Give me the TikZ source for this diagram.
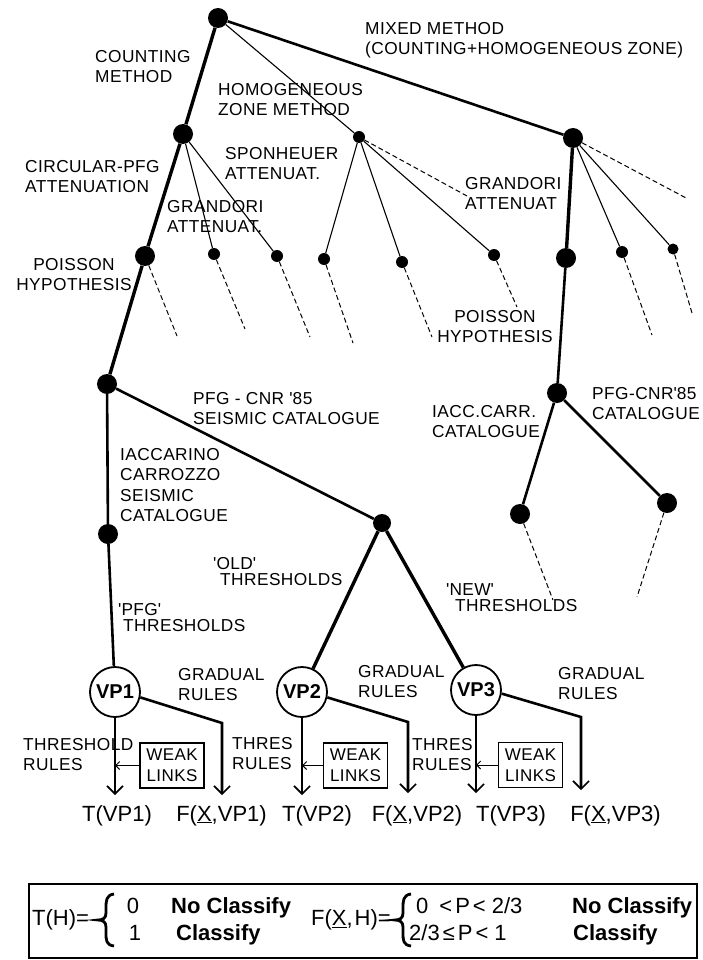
\documentclass[tikz,border=0pt]{standalone}
\usepackage{fontspec}
\setmainfont{Liberation Sans}
\newfontfamily\lblfont[LetterSpace=2.5]{Liberation Sans}
\usetikzlibrary{arrows.meta}
\begin{document}
\begin{tikzpicture}[x=1pt,y=-1pt,
  lbl/.style={font=\lblfont\fontsize{17.3}{20.5}\selectfont, align=left, inner sep=0pt, anchor=north west},
  lblq/.style={font=\lblfont\fontsize{17.3}{16}\selectfont, align=left, inner sep=0pt, anchor=north west},
  lblc/.style={font=\lblfont\fontsize{17.3}{20.5}\selectfont, align=center, inner sep=0pt, anchor=north},
  bdot/.style={circle, fill=black, inner sep=0pt, minimum size=20pt},
  sdot/.style={circle, fill=black, inner sep=0pt, minimum size=12pt},
  vp/.style={circle, draw, line width=1.8pt, minimum size=50pt, inner sep=0pt, font=\bfseries\fontsize{20}{22}\selectfont},
  wbox/.style={draw, line width=1.3pt, minimum width=64pt, minimum height=45pt, inner sep=0pt, align=center, font=\lblfont\fontsize{17}{21}\selectfont},
  outl/.style={font=\fontsize{22}{24}\selectfont, inner sep=0pt, anchor=base},
  fml/.style={font=\fontsize{22}{24}\selectfont, inner sep=0pt},
  fmlb/.style={font=\bfseries\fontsize{22}{24}\selectfont, inner sep=0pt},
  heavy/.style={line width=3.4pt},
  med/.style={line width=2.6pt},
  thin/.style={line width=1.1pt},
  dsh/.style={line width=1pt, dash pattern=on 5pt off 3pt},
  arr/.style={-{Straight Barb[length=8pt,width=16pt,line width=1.6pt]}},
  sarr/.style={line width=1pt, -{Straight Barb[length=4pt,width=8pt]}},
  brc/.style={line width=2.8pt}
]
\useasboundingbox (0,0) rectangle (703,960);
\fill[white] (0,0) rectangle (703,960);

% ---------- tree nodes ----------
\node[bdot] (R) at (218,18) {};
\node[bdot] (C) at (183,134) {};
\node[sdot] (H) at (359,137) {};
\node[bdot] (M) at (573,138) {};
\node[bdot] (P) at (145,256) {};
\node[sdot] (c1) at (214,254) {};
\node[sdot] (c2) at (277,256) {};
\node[sdot] (h1) at (324,259) {};
\node[sdot] (h2) at (402,262) {};
\node[sdot] (h3) at (494,255) {};
\node[bdot] (M2) at (566,258) {};
\node[sdot] (m1) at (622,252) {};
\node[sdot, minimum size=11pt] (m2) at (673,249) {};
\node[bdot] (N1) at (107,384) {};
\node[bdot] (N2) at (108,534) {};
\node[bdot, minimum size=18pt] (N3) at (382,523) {};
\node[bdot] (M3) at (557,393) {};
\node[bdot] (M4) at (520,514) {};
\node[bdot] (M5) at (667,503) {};
\node[vp] (VP1) at (115,692) {VP1};
\node[vp] (VP2) at (302,692) {VP2};
\node[vp] (VP3) at (476,690) {VP3};

% dashed ends
\coordinate (dP) at (177,336);
\coordinate (dc1) at (245,329);
\coordinate (dc2) at (310,337);
\coordinate (dh1) at (353,343);
\coordinate (dh2) at (432,337);
\coordinate (dh3) at (517,307);
\coordinate (dH) at (467,196);
\coordinate (dM) at (688,199);
\coordinate (dm1) at (652,335);
\coordinate (dm2) at (692,313);
\coordinate (dM4) at (553,600);
\coordinate (dM5) at (637,597);

% ---------- tree edges ----------
\draw[heavy] (R) -- (C);
\draw[thin] (R) -- (H);
\draw[med] (R) -- (M);
\draw[heavy] (C) -- (P);
\draw[thin] (C) -- (c1);
\draw[thin] (C) -- (c2);
\draw[thin] (H) -- (h1);
\draw[thin] (H) -- (h2);
\draw[thin] (H) -- (h3);
\draw[dsh] (H) -- (dH);
\draw[heavy] (M) -- (M2);
\draw[thin] (M) -- (m1);
\draw[thin] (M) -- (m2);
\draw[dsh] (M) -- (dM);
\draw[dsh] (P) -- (dP);
\draw[dsh] (c1) -- (dc1);
\draw[dsh] (c2) -- (dc2);
\draw[dsh] (h1) -- (dh1);
\draw[dsh] (h2) -- (dh2);
\draw[dsh] (h3) -- (dh3);
\draw[dsh] (m1) -- (dm1);
\draw[dsh] (m2) -- (dm2);
\draw[heavy] (P) -- (N1);
\draw[med] (N1) -- (N2);
\draw[med] (N1) -- (N3);
\draw[med] (N2) -- (VP1);
\draw[heavy] (N3) -- (VP2);
\draw[heavy] (N3) -- (VP3);
\draw[med] (M2) -- (M3);
\draw[med] (M3) -- (M4);
\draw[med] (M3) -- (M5);
\draw[dsh] (M4) -- (dM4);
\draw[dsh] (M5) -- (dM5);

% ---------- VP outputs ----------
\coordinate (a1) at (115,795);
\coordinate (g1) at (222,723);
\coordinate (b1) at (222,795);
\coordinate (a2) at (302,795);
\coordinate (g2) at (408,722);
\coordinate (b2) at (408,793);
\coordinate (a3) at (476,793);
\coordinate (g3) at (581,717);
\coordinate (b3) at (581,790);
\draw[med, arr] (VP1) -- (a1);
\draw[med, arr] (VP1.-12) -- (g1) -- (b1);
\draw[med, arr] (VP2) -- (a2);
\draw[med, arr] (VP2.-12) -- (g2) -- (b2);
\draw[med, arr] (VP3) -- (a3);
\draw[med, arr] (VP3.-8) -- (g3) -- (b3);

\node[wbox] (W1) at (172,765.5) {WEAK\\LINKS};
\node[wbox] (W2) at (355.5,765.5) {WEAK\\LINKS};
\node[wbox] (W3) at (530.5,765) {WEAK\\LINKS};
\coordinate (w1) at (115,765.5);
\coordinate (w2) at (302,765.5);
\coordinate (w3) at (476,765);
\draw[sarr] (W1) -- (w1);
\draw[sarr] (W2) -- (w2);
\draw[sarr] (W3) -- (w3);

% ---------- labels ----------
\node[lbl] (lcount) at (95,50) {COUNTING\\METHOD};
\node[lbl] (lhomo) at (218,83) {HOMOGENEOUS\\ZONE METHOD};
\node[lbl] (lmix) at (365,22) {MIXED METHOD\\(COUNTING+HOMOGENEOUS ZONE)};
\node[lbl] (lcirc) at (25,160) {CIRCULAR-PFG\\ATTENUATION};
\node[lbl] (lspon) at (225,147) {SPONHEUER\\ATTENUAT.};
\node[lbl] (lgr1) at (167,200) {GRANDORI\\ATTENUAT.};
\node[lblc] (lpo1) at (74,258) {POISSON\\HYPOTHESIS};
\node[lbl] (lgr2) at (465,177) {GRANDORI\\ATTENUAT};
\node[lblc] (lpo2) at (495,310) {POISSON\\HYPOTHESIS};
\node[lbl] (lpfg) at (193,392) {PFG - CNR \textquotesingle 85\\SEISMIC CATALOGUE};
\node[lbl] (liac) at (120,448) {IACCARINO\\CARROZZO\\SEISMIC\\CATALOGUE};
\node[lblq] (lold) at (213,557) {\textquotesingle OLD\textquotesingle\\\hspace*{7pt}THRESHOLDS};
\node[lblq] (lpfgt) at (118,603) {\textquotesingle PFG\textquotesingle\\\hspace*{5pt}THRESHOLDS};
\node[lbl] (liacc) at (432,405) {IACC.CARR.\\CATALOGUE};
\node[lbl] (lpfg2) at (592,387) {PFG-CNR\textquotesingle 85\\CATALOGUE};
\node[lblq] (lnew) at (446,583) {\textquotesingle NEW\textquotesingle\\\hspace*{9pt}THRESHOLDS};
\node[lbl] (lgrad1) at (178,668) {GRADUAL\\RULES};
\node[lbl] (lgrad2) at (358,665) {GRADUAL\\RULES};
\node[lbl] (lgrad3) at (558,667) {GRADUAL\\RULES};
\node[lbl] (lthr1) at (23,738) {THRESHOLD\\RULES};
\node[lbl] (lthr2) at (232,737) {THRES\\RULES};
\node[lbl] (lthr3) at (412,738) {THRES\\RULES};

% ---------- outputs ----------
\node[outl] (o1) at (117,821) {T(VP1)};
\node[outl] (o2) at (221.5,821) {F(\underline{X},VP1)};
\node[outl] (o3) at (317,821) {T(VP2)};
\node[outl] (o4) at (417,821) {F(\underline{X},VP2)};
\node[outl] (o5) at (511,821) {T(VP3)};
\node[outl] (o6) at (615.5,821) {F(\underline{X},VP3)};

% ---------- formula box ----------
\node[draw, line width=1.2pt, minimum width=668pt, minimum height=74pt, inner sep=0pt] (box) at (363,921) {};
\node[fml, anchor=west] (TH) at (32,920) {T(H)=};
\draw[brc] (114,894) .. controls (106,895) and (106,901) .. (106,908)
  -- (106,913) .. controls (106,918) and (103,920) .. (98,920)
  .. controls (103,920) and (106,922) .. (106,927) -- (106,933)
  .. controls (106,940) and (106,945) .. (114,946);
\node[fml, anchor=base] (z0) at (133,913) {0};
\node[fml, anchor=base] (z1) at (135,940) {1};
\node[fmlb, anchor=base west] (nc1) at (171,913) {No Classify};
\node[fmlb, anchor=base west] (cl1) at (176,940) {Classify};
\node[fml, anchor=west] (FH) at (311,920) {F(\underline{X},\hspace{2pt}H)=};
\draw[brc] (411,894) .. controls (403,895) and (403,901) .. (403,908)
  -- (403,913) .. controls (403,918) and (400,920) .. (395,920)
  .. controls (400,920) and (403,922) .. (403,927) -- (403,933)
  .. controls (403,940) and (403,945) .. (411,946);
\node[fml, anchor=base west] (p1) at (416,913) {0\hspace{11pt}<\hspace{3pt}P\hspace{3pt}<\hspace{6pt}2/3};
\node[fml, anchor=base west] (p2) at (409,940) {2/3\hspace{3pt}≤\hspace{3pt}P\hspace{3pt}<\hspace{6pt}1};
\node[fmlb, anchor=base west] (nc2) at (572,913) {No Classify};
\node[fmlb, anchor=base west] (cl2) at (573,940) {Classify};
\end{tikzpicture}
\end{document}
